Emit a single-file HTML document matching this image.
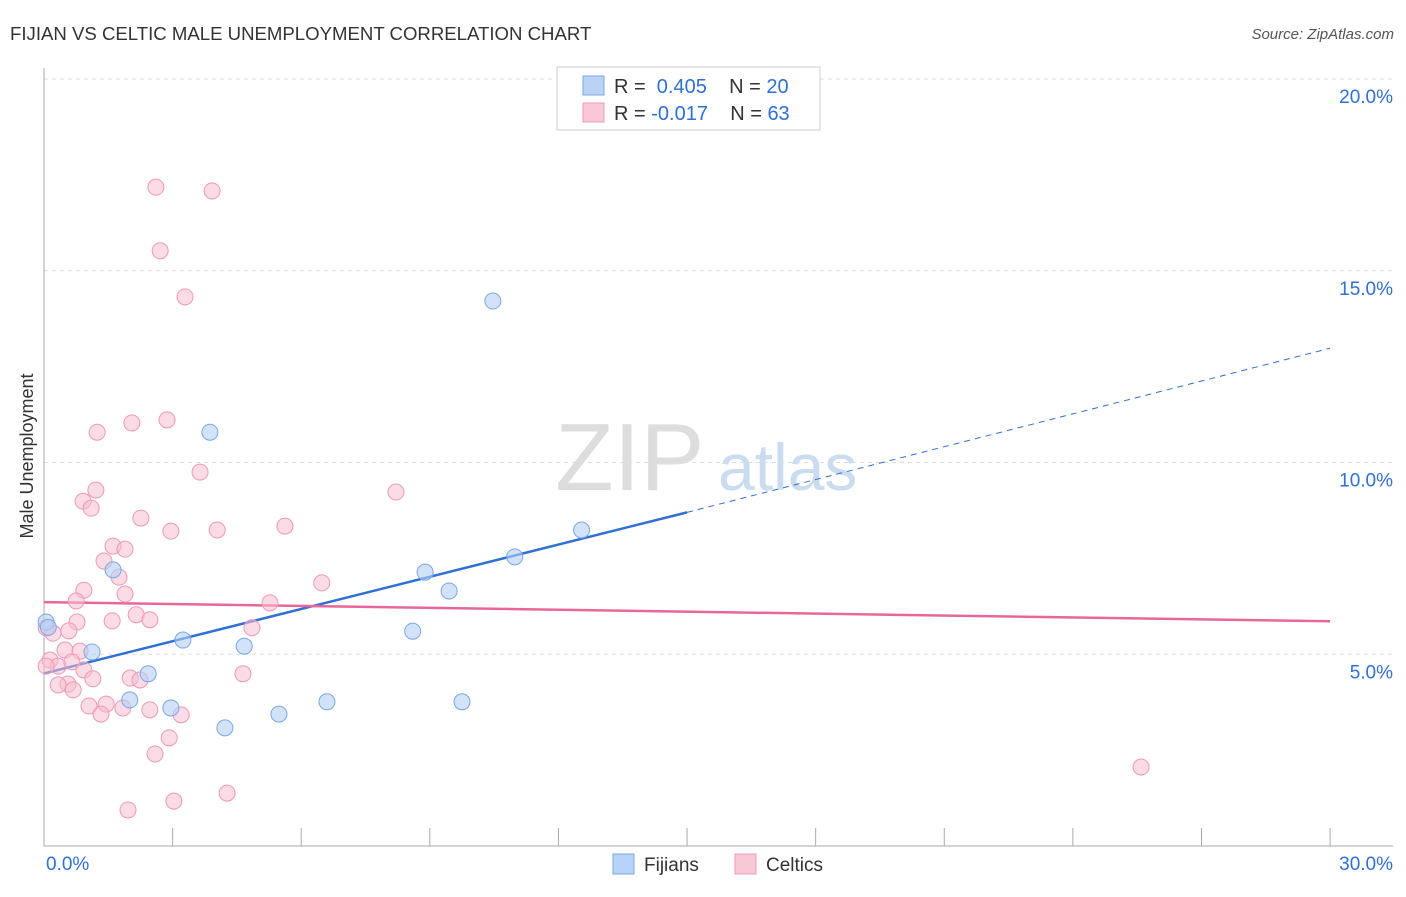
<!DOCTYPE html>
<html><head><meta charset="utf-8"><style>
body{margin:0;background:#fff;font-family:"Liberation Sans",sans-serif;}
svg text{font-family:"Liberation Sans",sans-serif;}
</style></head><body>
<svg id="chart" width="1406" height="892">
<text x="10" y="40" font-size="18.6" fill="#333">FIJIAN VS CELTIC MALE UNEMPLOYMENT CORRELATION CHART</text>
<text x="1394" y="39" font-size="15" fill="#555" font-style="italic" text-anchor="end">Source: ZipAtlas.com</text>
<text x="33" y="456" font-size="18" fill="#333" text-anchor="middle" transform="rotate(-90 33 456)">Male Unemployment</text>
<text x="555" y="490" font-size="96" fill="#ddd" font-family="Liberation Serif">ZIP</text>
<text x="718" y="490" font-size="66" fill="#c9dcf0">atlas</text>
<g id="grid"></g><g id="axes"></g><g id="lines"></g><g id="pts"></g>
<g>
<rect x="557" y="67" width="263" height="63" fill="#fff" stroke="#ccc"/>
<rect x="583" y="76" width="21" height="19" fill="#b9d3f5" stroke="#7aa7e6"/>
<text x="614" y="93" font-size="20" fill="#333">R = <tspan fill="#2f6fd6">&#160;0.405</tspan>&#160;&#160;&#160; N = <tspan fill="#2f6fd6">20</tspan></text>
<rect x="583" y="103" width="21" height="19" fill="#f9c8d6" stroke="#ee99b4"/>
<text x="614" y="120" font-size="20" fill="#333">R = <tspan fill="#2f6fd6">-0.017</tspan>&#160;&#160;&#160; N = <tspan fill="#2f6fd6">63</tspan></text>
</g>
<g>
<rect x="613" y="854" width="21" height="20" fill="#b9d3f5" stroke="#7aa7e6"/>
<text x="644" y="871" font-size="19" fill="#333">Fijians</text>
<rect x="735" y="854" width="21" height="20" fill="#f9c8d6" stroke="#ee99b4"/>
<text x="766" y="871" font-size="19" fill="#333">Celtics</text>
</g>
</svg>
<script>
const yTicks=[5,10,15,20];
const xTickLabels=["0.0%","30.0%"];
const fijianX=[0.05,1.12,1.61,2.0,2.43,2.96,3.24,3.87,4.22,4.67,5.48,6.6,8.6,8.89,9.45,9.75,10.47,10.98,12.54,0.1];
const fijianY=[5.84,5.06,7.2,3.81,4.49,3.6,5.37,10.79,3.08,5.21,3.44,3.76,5.6,7.14,6.65,3.76,14.21,7.54,8.24,5.7];
const celticX=[2.61,3.92,2.71,3.29,1.24,2.05,2.87,3.64,0.91,1.21,1.1,2.26,2.96,4.04,5.62,8.21,1.61,1.89,1.4,1.75,0.93,1.89,0.75,6.48,5.27,1.59,2.15,2.47,0.77,0.58,4.85,0.21,0.49,0.84,0.14,0.33,0.65,0.05,0.93,4.64,1.14,0.56,0.33,2.01,2.24,0.68,1.05,1.45,1.84,2.47,1.33,3.2,2.92,2.59,1.96,3.03,4.27,25.59,0.05];
const celticY=[17.18,17.08,15.52,14.32,10.79,11.03,11.11,9.75,8.99,9.28,8.81,8.55,8.21,8.24,8.34,9.23,7.82,7.74,7.43,7.01,6.67,6.57,6.39,6.86,6.34,5.87,6.03,5.9,5.84,5.61,5.69,5.55,5.11,5.08,4.85,4.69,4.8,4.69,4.59,4.49,4.36,4.22,4.2,4.38,4.33,4.07,3.65,3.7,3.6,3.55,3.44,3.42,2.82,2.4,0.94,1.17,1.38,2.06,5.69];
const X=v=>44+v*42.87, Y=v=>846-v*38.35;
const ns="http://www.w3.org/2000/svg";
function mk(p,t,a){const e=document.createElementNS(ns,t);for(const k in a)e.setAttribute(k,a[k]);document.getElementById(p).appendChild(e);return e;}
yTicks.forEach(t=>{
 const l=mk('grid','line',{x1:44,x2:1393,y1:Y(t),y2:Y(t),stroke:'#ddd','stroke-dasharray':'4,4'});
 
 
 const tx=mk('grid','text',{x:1393,y:Y(t)+24,'font-size':19,fill:'#2f6fd6','text-anchor':'end'});tx.textContent=t.toFixed(1)+'%';
 
 
});
const ya=mk('axes','line',{x1:44,x2:44,y1:68,y2:846,stroke:'#aaa'});


const xa=mk('axes','line',{x1:44,x2:1393,y1:846,y2:846,stroke:'#aaa'});


for(let i=0;i<=10;i++){const t=mk('axes','line',{x1:X(i*3),x2:X(i*3),y1:828,y2:846,stroke:'#aaa'});
 
 }
[[0,'start',46],[30,'end',1393]].forEach((d,i)=>{const t=mk('axes','text',{x:d[2],y:870,'font-size':19,fill:'#2f6fd6','text-anchor':d[1]});t.textContent=xTickLabels[i];
 
 });
const b=mk('lines','line',{x1:X(0),y1:Y(4.5),x2:X(15),y2:Y(8.7),stroke:'#2f6fd6','stroke-width':2.5});


const bd=mk('lines','line',{x1:X(15),y1:Y(8.7),x2:X(30),y2:Y(12.98),stroke:'#2f6fd6','stroke-width':1,'stroke-dasharray':'6,5'});


const p=mk('lines','line',{x1:X(0),y1:Y(6.36),x2:X(30),y2:Y(5.86),stroke:'#e8679a','stroke-width':2.5});


celticX.forEach((x,i)=>{const c=mk('pts','circle',{cx:X(x),cy:Y(celticY[i]),r:8,fill:'rgba(248,190,208,0.55)',stroke:'#ee99b4'});
 
 });
fijianX.forEach((x,i)=>{const c=mk('pts','circle',{cx:X(x),cy:Y(fijianY[i]),r:8,fill:'rgba(180,208,245,0.6)',stroke:'#7aa7e6'});
 
 });
</script>
</body></html>
